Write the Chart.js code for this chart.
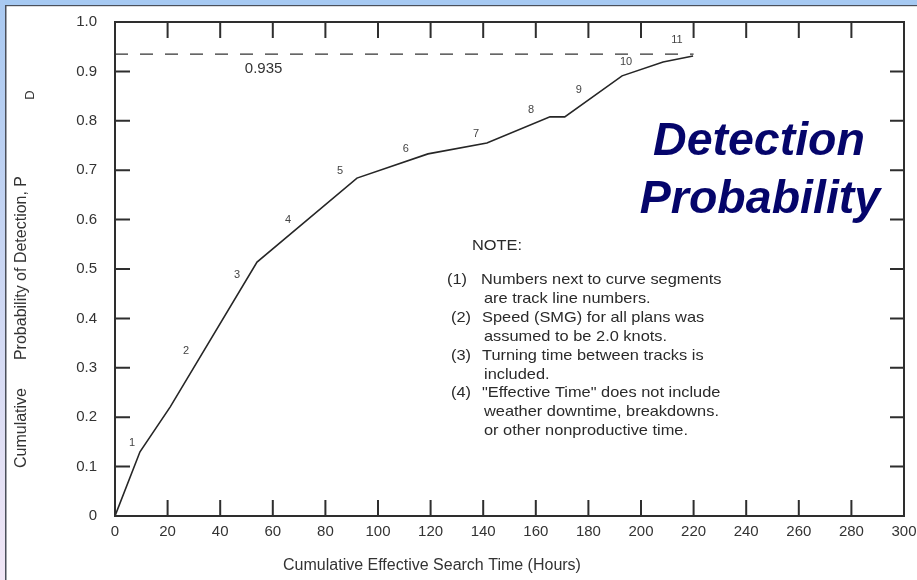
<!DOCTYPE html>
<html>
<head>
<meta charset="utf-8">
<title>Detection Probability</title>
<script src="https://cdn.jsdelivr.net/npm/chart.js@4/dist/chart.umd.min.js"></script>
<style>
  html, body { margin: 0; padding: 0; background: #fff; }
  #wrap { width: 917px; height: 580px; position: relative; }
</style>
</head>
<body>
<div id="wrap"><canvas id="detChart"></canvas></div>
<script>
// DATA
var hours = [0, 9.5, 21, 54, 92, 119, 141.4, 165.4, 171, 192.8, 208.4, 219.8];
var probability = [0, 0.13, 0.221, 0.514, 0.684, 0.733, 0.755, 0.808, 0.808, 0.891, 0.919, 0.931];
var targetProbability = 0.935;
var targetHours = [0, 220];
var xTicks = [0, 20, 40, 60, 80, 100, 120, 140, 160, 180, 200, 220, 240, 260, 280, 300];
var yTicks = [0, 0.1, 0.2, 0.3, 0.4, 0.5, 0.6, 0.7, 0.8, 0.9, 1.0];
var trackNumbers = ['1', '2', '3', '4', '5', '6', '7', '8', '9', '10', '11'];
var trackLabelHours = [6.5, 27, 46.4, 65.8, 85.6, 110.6, 137.3, 158.2, 176.4, 194.3, 213.7];
var trackLabelProb = [0.148, 0.334, 0.488, 0.599, 0.698, 0.743, 0.773, 0.822, 0.862, 0.919, 0.964];
var noteLines = [
    ['', 'NOTE:'],
    ['(1)', 'Numbers next to curve segments'],
    ['', 'are track line numbers.'],
    ['(2)', 'Speed (SMG) for all plans was'],
    ['', 'assumed to be 2.0 knots.'],
    ['(3)', 'Turning time between tracks is'],
    ['', 'included.'],
    ['(4)', '"Effective Time" does not include'],
    ['', 'weather downtime, breakdowns.'],
    ['', 'or other nonproductive time.']
];

var FONT = '"Liberation Sans", Arial, Helvetica, sans-serif';
var INK = '#2e2e2e';

var curvePoints = hours.map(function (h, i) { return { x: h, y: probability[i] }; });
var targetPoints = targetHours.map(function (h) { return { x: h, y: targetProbability }; });

// page frame (blue band on top, gradient strip on left)
var framePlugin = {
    id: 'frame',
    beforeDraw: function (chart) {
        var c = chart.ctx;
        c.save();
        c.fillStyle = '#ffffff';
        c.fillRect(0, 0, chart.width, chart.height);
        c.fillStyle = '#a6c9f2';
        c.fillRect(0, 0, chart.width, 5);
        var g = c.createLinearGradient(0, 0, 0, chart.height);
        g.addColorStop(0, '#a9c9f1');
        g.addColorStop(1, '#f1e6f6');
        c.fillStyle = g;
        c.fillRect(0, 0, 5, chart.height);
        c.fillStyle = '#4a4f5a';
        c.fillRect(5, 5, chart.width - 5, 1.2);
        c.fillRect(5, 5, 1.5, chart.height - 5);
        c.restore();
    }
};

// box with inward ticks on all four sides, texts
var decorPlugin = {
    id: 'decor',
    afterDraw: function (chart) {
        var c = chart.ctx;
        var a = chart.chartArea;
        var xs = chart.scales.x;
        var ys = chart.scales.y;
        c.save();
        c.strokeStyle = INK;
        c.lineWidth = 2;
        c.strokeRect(a.left, a.top, a.right - a.left, a.bottom - a.top);
        c.beginPath();
        xTicks.forEach(function (v) {
            if (v === 0 || v === 300) return;
            var px = xs.getPixelForValue(v);
            c.moveTo(px, a.bottom); c.lineTo(px, a.bottom - 16);
            c.moveTo(px, a.top); c.lineTo(px, a.top + 16);
        });
        yTicks.forEach(function (v) {
            if (v === 0 || v === 1) return;
            var py = ys.getPixelForValue(v);
            c.moveTo(a.left, py); c.lineTo(a.left + 15, py);
            c.moveTo(a.right, py); c.lineTo(a.right - 14, py);
        });
        c.stroke();

        // track numbers
        c.fillStyle = '#444';
        c.font = '11px ' + FONT;
        c.textAlign = 'center';
        c.textBaseline = 'middle';
        trackNumbers.forEach(function (t, i) {
            c.fillText(t, xs.getPixelForValue(trackLabelHours[i]), ys.getPixelForValue(trackLabelProb[i]));
        });

        // 0.935 label
        c.fillStyle = '#333';
        c.font = '15px ' + FONT;
        c.fillText(String(targetProbability), xs.getPixelForValue(56.5), ys.getPixelForValue(targetProbability) + 15);

        // axis titles
        c.font = '16px ' + FONT;
        c.fillText('Cumulative Effective Search Time (Hours)', 432, 566);
        c.save();
        c.translate(22, 0);
        c.rotate(-Math.PI / 2);
        c.fillText('Cumulative', -428, 0);
        c.fillText('Probability of Detection, P', -268, 0);
        c.font = '13px ' + FONT;
        c.fillText('D', -95, 8);
        c.restore();

        // note block (scan is a bit wider than the font)
        c.textAlign = 'left';
        c.fillStyle = '#2a2a2a';
        c.font = '14.5px ' + FONT;
        noteLines.forEach(function (ln, i) {
            var y = i === 0 ? 246 : 280 + (i - 1) * 18.9;
            c.save();
            c.translate(0, y);
            c.scale(1.13, 1);
            if (i === 0) { c.fillText(ln[1], 472 / 1.13, 0); c.restore(); return; }
            if (ln[0]) c.fillText(ln[0], (i === 1 ? 447 : 451) / 1.13, 0);
            c.fillText(ln[1], (ln[0] ? (i === 1 ? 481 : 482) : 484) / 1.13, 0);
            c.restore();
        });

        // big title
        c.fillStyle = '#05056b';
        c.font = 'italic bold 46.5px ' + FONT;
        c.textAlign = 'center';
        c.textBaseline = 'alphabetic';
        c.fillText('Detection', 759, 155);
        c.fillText('Probability', 760, 213);
        c.restore();
    }
};

var ctx = document.getElementById('detChart');
var detChart = new Chart(ctx, {
    type: 'line',
    data: {
        datasets: [{
            label: 'Detection probability',
            data: curvePoints,
            borderColor: '#262626',
            borderWidth: 1.6,
            pointRadius: 0,
            tension: 0
        }, {
            label: 'Target',
            data: targetPoints,
            borderColor: '#333',
            borderWidth: 1.4,
            borderDash: [13, 12],
            pointRadius: 0
        }]
    },
    plugins: [framePlugin, decorPlugin],
    options: {
        responsive: true,
        maintainAspectRatio: false,
        animation: false,
        layout: { padding: { top: 22, right: 13, left: 0, bottom: 0 } },
        plugins: {
            legend: { display: false },
            tooltip: { enabled: false }
        },
        scales: {
            x: {
                type: 'linear',
                min: 0,
                max: 300,
                afterBuildTicks: function (s) { s.ticks = xTicks.map(function (v) { return { value: v }; }); },
                afterFit: function (s) { s.height = 64; s.paddingLeft = 0; s.paddingRight = 0; },
                grid: { display: false, drawTicks: false },
                border: { display: false },
                ticks: { color: '#333', padding: 7, font: { family: FONT, size: 15 }, maxRotation: 0 }
            },
            y: {
                type: 'linear',
                min: 0,
                max: 1,
                afterBuildTicks: function (s) { s.ticks = yTicks.map(function (v) { return { value: v }; }); },
                afterFit: function (s) { s.width = 115; s.paddingTop = 0; s.paddingBottom = 0; },
                grid: { display: false, drawTicks: false },
                border: { display: false },
                ticks: {
                    color: '#333',
                    padding: 18,
                    font: { family: FONT, size: 15 },
                    callback: function (v) { return v === 0 ? '0' : v.toFixed(1); }
                }
            }
        }
    }
});
</script>
</body>
</html>
